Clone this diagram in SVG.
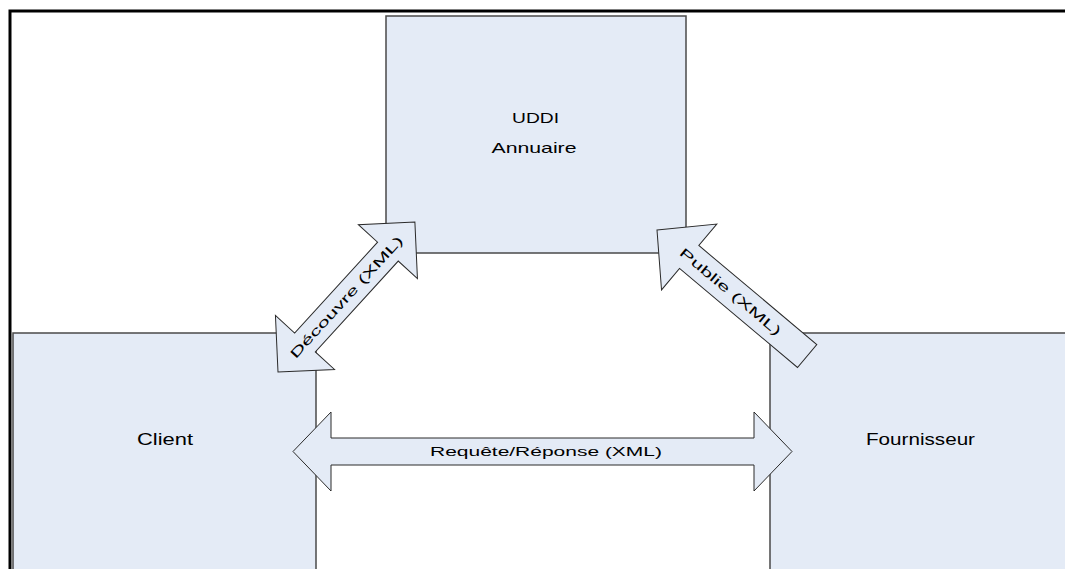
<svg xmlns="http://www.w3.org/2000/svg" width="1065" height="569" viewBox="0 0 1065 569">
<defs>
<style>
.box{fill:#E4EBF6;stroke:#4a4a4a;stroke-width:1.5}
.arr{fill:#E4EBF6;stroke:#2a2a2a;stroke-width:1}
.t{font-family:"Liberation Sans",Arial,sans-serif;fill:#000;text-anchor:middle}
</style>
</defs>
<rect width="1065" height="569" fill="#fff"/>
<path d="M10,569 V11 H1065" fill="none" stroke="#000" stroke-width="3"/>
<g id="uddi">
<rect class="box" x="386" y="16" width="300" height="237"/>
<text class="t" x="535.5" y="123" font-size="14" textLength="47" lengthAdjust="spacingAndGlyphs">UDDI</text>
<text class="t" x="534" y="153" font-size="15" textLength="85" lengthAdjust="spacingAndGlyphs">Annuaire</text>
</g>
<g id="client">
<rect class="box" x="13" y="333" width="303" height="250"/>
<text class="t" x="165" y="445" font-size="17" textLength="56" lengthAdjust="spacingAndGlyphs">Client</text>
</g>
<g id="fournisseur">
<rect class="box" x="770" y="333" width="303" height="250"/>
<text class="t" x="920.5" y="445" font-size="17" textLength="109" lengthAdjust="spacingAndGlyphs">Fournisseur</text>
</g>
<g id="connectors">
<g id="decouverte" transform="translate(278,372) rotate(-47.6)">
<polygon class="arr" points="0,0 40,-40 40,-14 163,-14 163,-40 203,0 163,40 163,14 40,14 40,40"/>
<text class="t" x="101.5" y="4.5" font-size="13" textLength="160" lengthAdjust="spacingAndGlyphs">Découvre (XML)</text>
</g>
<g id="publie" transform="translate(657,230) rotate(40)">
<polygon class="arr" points="0,0 42,-43 42,-15 196,-15 196,15 42,15 42,43"/>
<text class="t" x="96" y="4.5" font-size="13" textLength="128" lengthAdjust="spacingAndGlyphs">Publie (XML)</text>
</g>
<g id="requete">
<polygon class="arr" points="293,451.5 331,412 331,438 754,438 754,412 792,451.5 754,491 754,465 331,465 331,491"/>
<text class="t" x="546" y="456" font-size="13" textLength="232" lengthAdjust="spacingAndGlyphs">Requête/Réponse (XML)</text>
</g>
</g>
</svg>
